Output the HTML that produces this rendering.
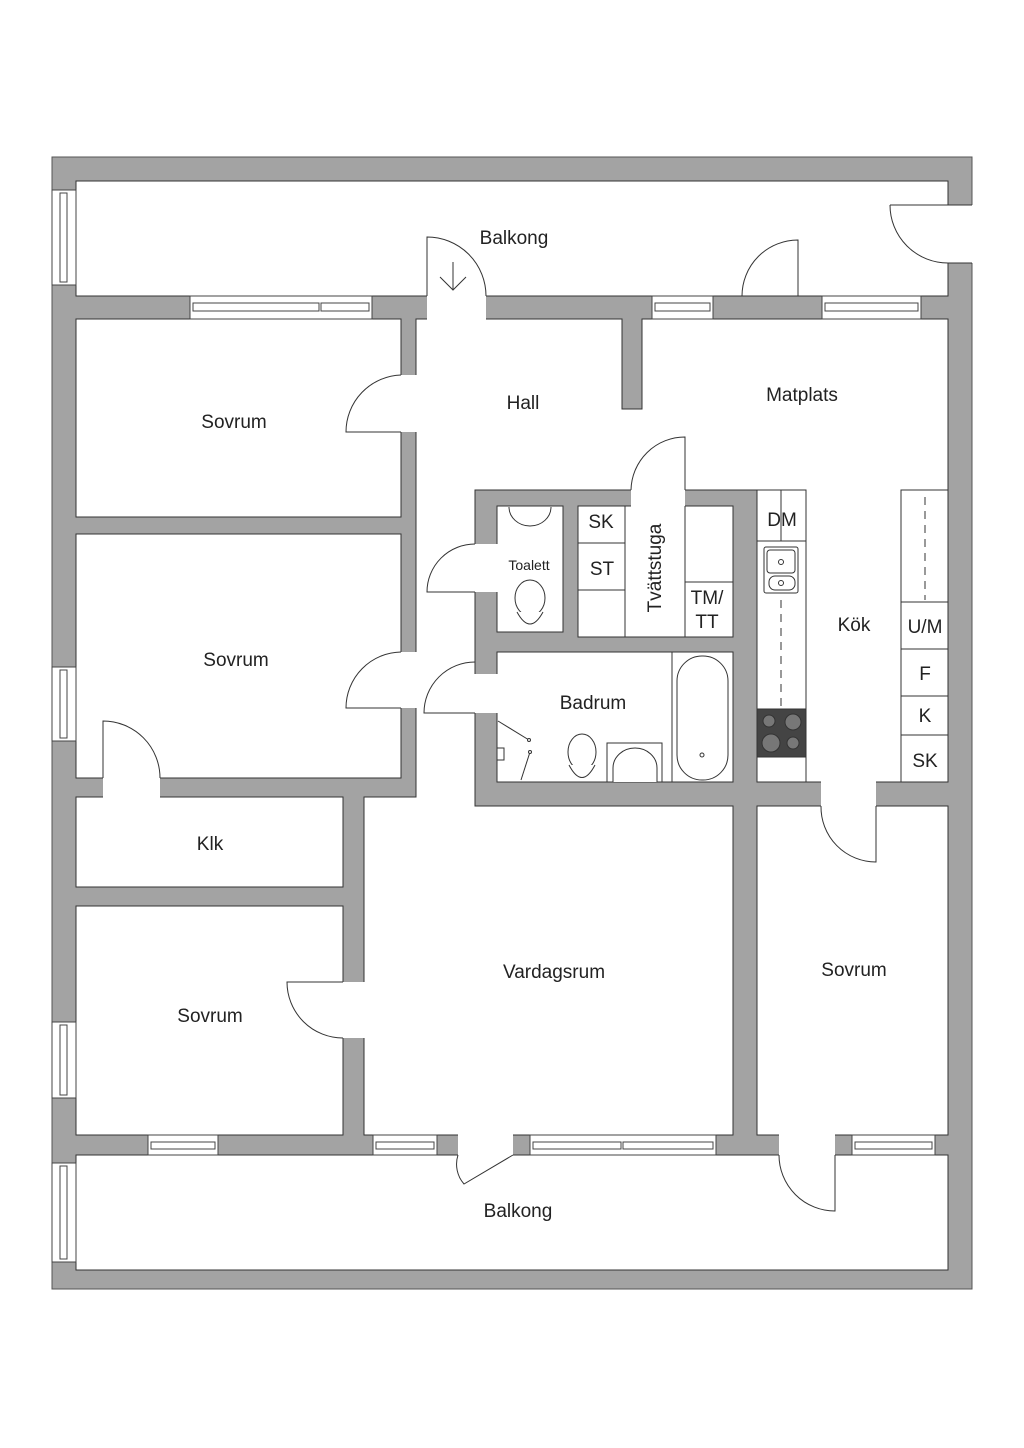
<!DOCTYPE html>
<html><head><meta charset="utf-8"><style>
html,body{margin:0;padding:0;background:#fff}
svg{display:block}
text{font-family:"Liberation Sans",sans-serif;fill:#222}
</style></head><body>
<svg width="1024" height="1448" viewBox="0 0 1024 1448" xmlns="http://www.w3.org/2000/svg">
<rect x="0" y="0" width="1024" height="1448" fill="#fff"/>
<rect x="52" y="157" width="920" height="1132" fill="#a3a3a3" stroke="#555" stroke-width="1"/>
<g fill="#fff" stroke="#333" stroke-width="1">
<rect x="76" y="181" width="872" height="115"/>
<rect x="76" y="319" width="325" height="198"/>
<rect x="76" y="534" width="325" height="244"/>
<rect x="76" y="797" width="267" height="90"/>
<rect x="76" y="906" width="267" height="229"/>
<rect x="757" y="806" width="191" height="329"/>
<rect x="76" y="1155" width="872" height="115"/>
<path d="M416 319 H622 V409 H642 V319 H948 V782 H757 V490 H475 V806 H733 V1135 H364 V797 H416 Z"/>
<rect x="497" y="506" width="66" height="126"/>
<rect x="578" y="506" width="155" height="131"/>
<rect x="497" y="652" width="236" height="130"/>
</g>
<g fill="#fff" stroke="none">
<rect x="427" y="295" width="59" height="25"/>
<rect x="400" y="375" width="17" height="57"/>
<rect x="400" y="652" width="17" height="56"/>
<rect x="103" y="777" width="57" height="21"/>
<rect x="342" y="982" width="23" height="56"/>
<rect x="474" y="544" width="24" height="48"/>
<rect x="474" y="674" width="24" height="39"/>
<rect x="631" y="489" width="54" height="18"/>
<rect x="821" y="781" width="55" height="26"/>
<rect x="458" y="1134" width="55" height="22"/>
<rect x="779" y="1134" width="56" height="22"/>
<rect x="947" y="205" width="26" height="58"/>
</g>
<g fill="#fff" stroke="#444" stroke-width="1">
<rect x="190" y="296" width="182" height="23"/><rect x="193" y="303" width="126" height="8"/><rect x="321" y="303" width="48" height="8"/>
<rect x="652" y="296" width="61" height="23"/><rect x="655" y="303" width="55" height="8"/>
<rect x="822" y="296" width="99" height="23"/><rect x="825" y="303" width="93" height="8"/>
<rect x="148" y="1135" width="70" height="20"/><rect x="151" y="1142" width="64" height="7"/>
<rect x="373" y="1135" width="64" height="20"/><rect x="376" y="1142" width="58" height="7"/>
<rect x="530" y="1135" width="186" height="20"/><rect x="533" y="1142" width="88" height="7"/><rect x="623" y="1142" width="90" height="7"/>
<rect x="852" y="1135" width="83" height="20"/><rect x="855" y="1142" width="77" height="7"/>
<rect x="52" y="190" width="24" height="95"/><rect x="60" y="193" width="7" height="89"/>
<rect x="52" y="667" width="24" height="74"/><rect x="60" y="670" width="7" height="68"/>
<rect x="52" y="1022" width="24" height="76"/><rect x="60" y="1025" width="7" height="70"/>
<rect x="52" y="1163" width="24" height="99"/><rect x="60" y="1166" width="7" height="93"/>
</g>
<g fill="none" stroke="#333" stroke-width="1">
<path d="M890 205 H972 M890 205 A58 58 0 0 0 948 263 H972"/>
<path d="M427 296 V237 A59 59 0 0 1 486 296"/>
<path d="M453 262 V290 M440 277 L453 290 L466 277"/>
<path d="M798 296 V240 A56 56 0 0 0 742 296"/>
<path d="M401 432 H346 A57 57 0 0 1 401 375"/>
<path d="M401 708 H346 A56 56 0 0 1 401 652"/>
<path d="M685 490 V437 A54 54 0 0 0 631 490"/>
<path d="M475 592 H427 A48 48 0 0 1 475 544"/>
<path d="M475 713 H424 A51 51 0 0 1 475 662"/>
<path d="M103 778 V721 A57 57 0 0 1 160 778"/>
<path d="M343 982 H287 A56 56 0 0 0 343 1038"/>
<path d="M876 806 V862 A55 55 0 0 1 821 806"/>
<path d="M513 1155 L464 1184 A30 30 0 0 1 458 1155"/>
<path d="M835 1155 V1211 A56 56 0 0 1 779 1155"/>
</g>
<g fill="#fff" stroke="#333" stroke-width="1">
<line x1="578" y1="543" x2="625" y2="543"/><line x1="578" y1="590" x2="625" y2="590"/>
<line x1="625" y1="506" x2="625" y2="637"/><line x1="685" y1="506" x2="685" y2="637"/>
<line x1="685" y1="582" x2="733" y2="582"/>
<rect x="757" y="490" width="49" height="292"/>
<line x1="757" y1="541" x2="806" y2="541"/>
<line x1="781" y1="600" x2="781" y2="709" stroke-dasharray="8,6"/>
<line x1="781" y1="490" x2="781" y2="541"/>
<rect x="764" y="547" width="34" height="46" rx="2"/><rect x="767" y="550" width="28" height="23" rx="3"/><rect x="769" y="576" width="26" height="14" rx="6"/>
<circle cx="781" cy="562" r="2.5"/><circle cx="781" cy="583" r="2.5"/>
<rect x="757" y="709" width="49" height="48" fill="#444"/>
<circle cx="769" cy="721" r="6" fill="#777"/><circle cx="793" cy="722" r="8" fill="#777"/>
<circle cx="771" cy="743" r="9" fill="#777"/><circle cx="793" cy="743" r="6" fill="#777"/>
<rect x="901" y="490" width="47" height="292"/>
<line x1="925" y1="497" x2="925" y2="600" stroke-dasharray="8,6"/>
<line x1="901" y1="602" x2="948" y2="602"/><line x1="901" y1="649" x2="948" y2="649"/>
<line x1="901" y1="696" x2="948" y2="696"/><line x1="901" y1="735" x2="948" y2="735"/>
<path d="M509 507 A21 19 0 0 0 551 507"/>
<ellipse cx="530" cy="598" rx="15" ry="18"/><path d="M517 612 Q530 636 543 612"/>
<line x1="672" y1="652" x2="672" y2="782"/>
<rect x="677" y="656" width="51" height="124" rx="25"/>
<circle cx="702" cy="755" r="2"/>
<rect x="607" y="743" width="55" height="39"/>
<path d="M613 782 V768 A22 20 0 0 1 657 768 V782"/>
<ellipse cx="582" cy="752" rx="14" ry="18"/><path d="M569 765 Q582 790 595 765"/>
<line x1="498" y1="721" x2="529" y2="740"/><line x1="530" y1="752" x2="521" y2="780"/>
<circle cx="529" cy="740" r="1.5"/><circle cx="530" cy="752" r="1.5"/>
<rect x="497" y="748" width="7" height="12"/>
</g>
<g font-size="19" text-anchor="middle">
<text x="514" y="244">Balkong</text>
<text x="234" y="428">Sovrum</text>
<text x="523" y="409">Hall</text>
<text x="802" y="401">Matplats</text>
<text x="236" y="666">Sovrum</text>
<text x="210" y="850">Klk</text>
<text x="210" y="1022">Sovrum</text>
<text x="554" y="978">Vardagsrum</text>
<text x="854" y="976">Sovrum</text>
<text x="518" y="1217">Balkong</text>
<text x="854" y="631">Kök</text>
<text x="593" y="709">Badrum</text>
<text x="601" y="528">SK</text>
<text x="602" y="575">ST</text>
<text x="707" y="604">TM/</text>
<text x="707" y="628">TT</text>
<text x="782" y="526">DM</text>
<text x="925" y="633">U/M</text>
<text x="925" y="680">F</text>
<text x="925" y="722">K</text>
<text x="925" y="767">SK</text>
<text transform="translate(661,568) rotate(-90)">Tvättstuga</text>
</g>
<text x="529" y="570" font-size="14" text-anchor="middle">Toalett</text>
</svg>
</body></html>
